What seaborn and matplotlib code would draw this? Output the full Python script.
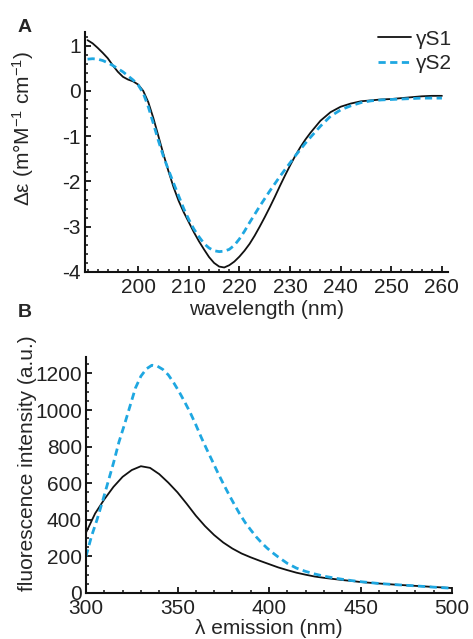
import numpy as np
import seaborn as sns
import matplotlib.pyplot as plt
from matplotlib.ticker import MultipleLocator

# panel A: CD spectra
cd_nm = [190, 191, 192, 193, 194, 195, 196, 197, 198, 199, 200, 201, 202, 203, 204,
         205, 206, 207, 208, 209, 210, 211, 212, 213, 214, 215, 216, 217, 218, 219,
         220, 221, 222, 223, 224, 225, 226, 227, 228, 229, 230, 231, 232, 233, 234,
         236, 238, 240, 242, 244, 246, 248, 250, 252, 254, 256, 258, 260]
cd_s1 = [1.12, 1.05, 0.95, 0.84, 0.72, 0.56, 0.42, 0.31, 0.25, 0.21, 0.14, 0.0, -0.25,
         -0.6, -1.0, -1.4, -1.78, -2.13, -2.43, -2.68, -2.9, -3.12, -3.32, -3.5, -3.67,
         -3.8, -3.88, -3.9, -3.85, -3.77, -3.66, -3.53, -3.38, -3.2, -3.0, -2.79, -2.57,
         -2.34, -2.1, -1.87, -1.65, -1.44, -1.25, -1.08, -0.93, -0.66, -0.47, -0.35, -0.28,
         -0.23, -0.21, -0.19, -0.18, -0.16, -0.14, -0.12, -0.11, -0.11]
cd_s2 = [0.7, 0.71, 0.7, 0.67, 0.62, 0.56, 0.49, 0.42, 0.33, 0.24, 0.13, -0.05, -0.35,
         -0.72, -1.1, -1.45, -1.75, -2.04, -2.32, -2.6, -2.84, -3.05, -3.22, -3.37, -3.47,
         -3.53, -3.55, -3.54, -3.5, -3.41, -3.27, -3.1, -2.91, -2.73, -2.55, -2.38, -2.21,
         -2.05, -1.89, -1.74, -1.59, -1.44, -1.3, -1.16, -1.03, -0.78, -0.56, -0.42, -0.33,
         -0.26, -0.22, -0.2, -0.19, -0.18, -0.17, -0.16, -0.16, -0.16]

# panel B: fluorescence emission
s1_nm = [300, 305, 310, 315, 320, 325, 330, 335, 340, 345, 350, 355, 360, 365, 370,
         375, 380, 385, 390, 395, 400, 405, 410, 415, 420, 425, 430, 435, 440, 445,
         450, 460, 470, 480, 490, 500]
fl_s1 = [330, 435, 512, 580, 635, 672, 693, 684, 650, 603, 550, 488, 423, 366, 317,
         276, 243, 216, 195, 176, 158, 140, 125, 111, 100, 90, 83, 77, 71, 66,
         60, 52, 45, 39, 33, 27]
s2_nm = [300, 303, 306, 309, 312, 315, 318, 321, 324, 327, 330, 333, 336, 339, 342,
         345, 348, 351, 354, 357, 360, 363, 366, 369, 372, 375, 378, 381, 384, 387,
         390, 393, 396, 399, 402, 405, 410, 415, 420, 425, 430, 435, 440, 445, 450,
         460, 470, 480, 490, 500]
fl_s2 = [200, 310, 400, 500, 605, 710, 825, 920, 1020, 1120, 1185, 1225, 1245, 1240, 1222,
         1192, 1148, 1098, 1043, 985, 920, 850, 785, 722, 658, 598, 540, 485, 432, 385,
         345, 307, 274, 245, 220, 197, 162, 136, 118, 104, 92, 83, 75, 68, 62,
         52, 45, 39, 32, 26]

labels = ["γS1", "γS2"]
BLUE = "#1ea7e1"

sns.set_style("ticks")
plt.rcParams['font.family'] = ['Liberation Sans', 'DejaVu Sans']
plt.rcParams['mathtext.fontset'] = 'custom'
plt.rcParams['mathtext.rm'] = 'Liberation Sans'
plt.rcParams['mathtext.it'] = 'Liberation Sans:italic'
plt.rcParams['axes.unicode_minus'] = False
plt.rcParams['font.size'] = 15

W, H = 473, 639
fig = plt.figure(figsize=(W / 100, H / 100), dpi=100)
axA = fig.add_axes([85 / W, 1 - 272 / H, (448 - 85) / W, (272 - 32) / H])
axB = fig.add_axes([86 / W, 1 - 593 / H, (452 - 86) / W, (593 - 357) / H])

dash = (0, (2.6, 1.6))

sns.lineplot(x=cd_nm, y=cd_s1, ax=axA, color="#111111", linewidth=1.3, label=labels[0])
sns.lineplot(x=cd_nm, y=cd_s2, ax=axA, color=BLUE, linewidth=2.0, linestyle=dash,
             label=labels[1])
sns.lineplot(x=s1_nm, y=fl_s1, ax=axB, color="#111111", linewidth=1.3)
sns.lineplot(x=s2_nm, y=fl_s2, ax=axB, color=BLUE, linewidth=2.0, linestyle=dash)

axA.set_xlim(189.5, 261.2)
axA.set_ylim(-4, 1.3)
axA.xaxis.set_minor_locator(MultipleLocator(2))
axA.yaxis.set_major_locator(MultipleLocator(1))
axA.yaxis.set_minor_locator(MultipleLocator(0.2))
axA.set_xticks([200, 210, 220, 230, 240, 250, 260])

axB.set_xlim(300, 500)
axB.set_ylim(0, 1290)
axB.xaxis.set_major_locator(MultipleLocator(50))
axB.xaxis.set_minor_locator(MultipleLocator(10))
axB.yaxis.set_major_locator(MultipleLocator(200))
axB.yaxis.set_minor_locator(MultipleLocator(50))

for ax in (axA, axB):
    sns.despine(ax=ax)
    for s in ("left", "bottom"):
        ax.spines[s].set_linewidth(1.5)
        ax.spines[s].set_color("#111111")
    ax.tick_params(which="major", direction="in", length=4, width=1.3,
                   labelsize=15, pad=3, color="#111111", labelcolor="#222222")
    ax.tick_params(which="minor", direction="in", length=2.2, width=1.1, color="#111111")
    ax.tick_params(axis="x", which="major", pad=4)

axA.set_xlabel("wavelength (nm)", fontsize=15)
axA.set_ylabel("Δε (m°M$^{-1}$ cm$^{-1}$)", fontsize=15)
axB.set_xlabel("λ emission (nm)", fontsize=15)
axB.set_ylabel("fluorescence intensity (a.u.)", fontsize=15)
axA.xaxis.set_label_coords(0.5, -0.115)
axB.xaxis.set_label_coords(0.5, -0.112)
axA.yaxis.set_label_coords(-0.135, 0.6)
axB.yaxis.set_label_coords(-0.135, 0.55)

axA.legend(loc="upper right", bbox_to_anchor=(1.01, 1.01), frameon=False,
           handlelength=1.6, handletextpad=0.2, borderaxespad=0, borderpad=0,
           labelspacing=0.25, fontsize=15)

fig.text(18 / W, 1 - 32 / H, "A", fontsize=14, weight="bold", va="baseline")
fig.text(18 / W, 1 - 317 / H, "B", fontsize=14, weight="bold", va="baseline")

fig.savefig("out.png", dpi=100)
